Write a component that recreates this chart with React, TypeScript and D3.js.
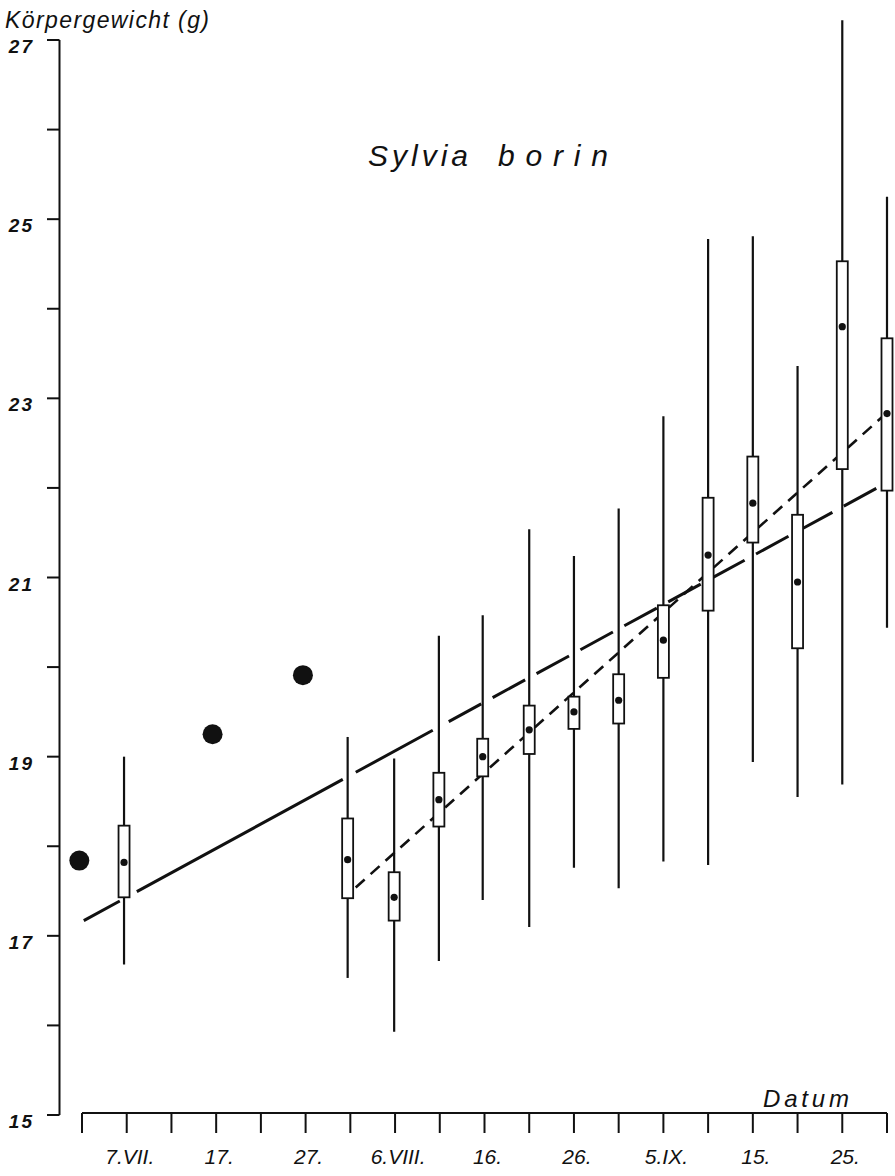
import React from "react";
import * as d3 from "d3";

// ---- data ----
const yTickValues = [15, 16, 17, 18, 19, 20, 21, 22, 23, 24, 25, 26, 27];
const yLabelValues = [15, 17, 19, 21, 23, 25, 27];
const xTickDays = [0, 5, 10, 15, 20, 25, 30, 35, 40, 45, 50, 55, 60, 65, 70, 75, 80, 85, 90];
const xLabelDays = [5, 15, 25, 35, 45, 55, 65, 75, 85];
const xLabels = ["7.VII.", "17.", "27.", "6.VIII.", "16.", "26.", "5.IX.", "15.", "25."];

// single weighings (days after 2 July)
const singleDays = [-0.3, 14.6, 24.7];
const singleValues = [17.84, 19.25, 19.91];

// grouped samples
const boxDays = [4.7, 29.7, 34.9, 39.9, 44.8, 50, 55, 60, 65, 70, 75, 80, 85, 90];
const boxMin = [16.68, 16.53, 15.93, 16.72, 17.4, 17.1, 17.76, 17.53, 17.83, 17.79, 18.94, 18.55, 18.69, 20.44];
const boxMax = [19.0, 19.22, 18.98, 20.35, 20.58, 21.54, 21.24, 21.77, 22.8, 24.78, 24.81, 23.36, 27.22, 25.25];
const boxLow = [17.43, 17.42, 17.17, 18.22, 18.78, 19.03, 19.31, 19.37, 19.88, 20.63, 21.39, 20.21, 22.21, 21.97];
const boxHigh = [18.23, 18.31, 17.71, 18.82, 19.2, 19.57, 19.67, 19.92, 20.69, 21.89, 22.35, 21.7, 24.53, 23.67];
const boxMean = [17.82, 17.85, 17.43, 18.52, 19.0, 19.3, 19.5, 19.63, 20.3, 21.25, 21.83, 20.95, 23.8, 22.83];

// regression lines
const trendAllDays = [0.2, 90];
const trendAllValues = [17.17, 22.06];
const trendLateDays = [30.6, 90];
const trendLateValues = [17.54, 22.84];

const W = 895;
const H = 1176;

export default function App() {
  const x = d3.scaleLinear().domain([0, 90]).range([82, 887]);
  const y = d3.scaleLinear().domain([15, 27]).range([1115, 40]);
  const line = d3
    .line<[number, number]>()
    .x((d) => x(d[0]))
    .y((d) => y(d[1]));

  const allPts: [number, number][] = trendAllDays.map((d, i) => [d, trendAllValues[i]]);
  const latePts: [number, number][] = trendLateDays.map((d, i) => [d, trendLateValues[i]]);

  // dash pattern for long-dashed line: solid start, then long dashes
  const dx = x(trendAllDays[1]) - x(trendAllDays[0]);
  const dy = y(trendAllValues[0]) - y(trendAllValues[1]);
  const fac = Math.sqrt(dx * dx + dy * dy) / dx;
  const segX = [84, 120, 137, 343, 356, 433, 449];
  const dashArr: number[] = [];
  for (let i = 1; i < segX.length; i++) dashArr.push((segX[i] - segX[i - 1]) * fac);
  for (let i = 0; i < 12; i++) dashArr.push(37, 13);

  const font = "'Liberation Sans', Arial, sans-serif";

  return (
    <svg
      width={W}
      height={H}
      viewBox={`0 0 ${W} ${H}`}
      style={{ position: "absolute", left: 0, top: 0, background: "#fff" }}
    >
      <rect x={0} y={0} width={W} height={H} fill="#fff" />

      {/* y axis */}
      <line x1={59.5} x2={59.5} y1={y(27)} y2={y(15)} stroke="#111" strokeWidth={2} />
      {yTickValues.map((v) => (
        <line key={v} x1={47} x2={59.5} y1={y(v)} y2={y(v)} stroke="#111" strokeWidth={2} />
      ))}
      {yLabelValues.map((v) => (
        <text
          key={v}
          x={34}
          y={y(v) + 13}
          textAnchor="end"
          fontFamily={font}
          fontStyle="italic"
          fontWeight="bold"
          fontSize={19}
          letterSpacing={2}
          fill="#111"
        >
          {v}
        </text>
      ))}
      <text
        x={5}
        y={28}
        fontFamily={font}
        fontStyle="italic"
        fontSize={23}
        textLength={204}
        lengthAdjust="spacing"
        fill="#111"
      >
        Körpergewicht (g)
      </text>

      {/* x axis */}
      <line x1={x(0)} x2={x(90)} y1={1113} y2={1113} stroke="#111" strokeWidth={2} />
      {xTickDays.map((d) => (
        <line key={d} x1={x(d)} x2={x(d)} y1={1113} y2={1133} stroke="#111" strokeWidth={2} />
      ))}
      {xLabelDays.map((d, i) => (
        <text
          key={d}
          x={x(d) + 3}
          y={1164}
          textAnchor="middle"
          fontFamily={font}
          fontStyle="italic"
          fontSize={21}
          fill="#111"
        >
          {xLabels[i]}
        </text>
      ))}
      <text
        x={763}
        y={1107}
        fontFamily={font}
        fontStyle="italic"
        fontSize={24}
        textLength={86}
        lengthAdjust="spacing"
        fill="#111"
      >
        Datum
      </text>

      {/* title */}
      <text
        x={368}
        y={166}
        fontFamily={font}
        fontStyle="italic"
        fontSize={30}
        textLength={100}
        lengthAdjust="spacing"
        fill="#111"
      >
        Sylvia
      </text>
      <text
        x={498}
        y={166}
        fontFamily={font}
        fontStyle="italic"
        fontSize={30}
        textLength={110}
        lengthAdjust="spacing"
        fill="#111"
      >
        borin
      </text>

      {/* whiskers */}
      {boxDays.map((d, i) => (
        <line
          key={"w" + i}
          x1={x(d)}
          x2={x(d)}
          y1={y(boxMax[i])}
          y2={y(boxMin[i])}
          stroke="#111"
          strokeWidth={2.2}
        />
      ))}

      {/* trend lines */}
      <path
        d={line(allPts) || ""}
        fill="none"
        stroke="#111"
        strokeWidth={3}
        strokeDasharray={dashArr.map((v) => v.toFixed(1)).join(" ")}
      />
      <path
        d={line(latePts) || ""}
        fill="none"
        stroke="#111"
        strokeWidth={2.6}
        strokeDasharray="12 8"
      />

      {/* boxes */}
      {boxDays.map((d, i) => (
        <g key={"b" + i}>
          <rect
            x={x(d) - 5.5}
            y={y(boxHigh[i])}
            width={11}
            height={y(boxLow[i]) - y(boxHigh[i])}
            fill="#fff"
            stroke="#111"
            strokeWidth={1.8}
          />
          <circle cx={x(d)} cy={y(boxMean[i])} r={3.6} fill="#111" />
        </g>
      ))}

      {/* single values */}
      {singleDays.map((d, i) => (
        <circle key={"s" + i} cx={x(d)} cy={y(singleValues[i])} r={10} fill="#111" />
      ))}
    </svg>
  );
}
